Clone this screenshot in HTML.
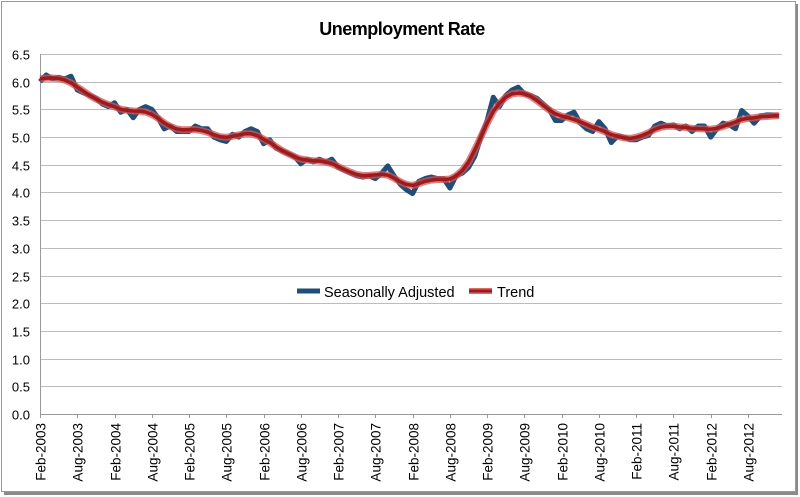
<!DOCTYPE html>
<html><head><meta charset="utf-8"><style>
html,body{margin:0;padding:0;background:#fff;}
body{width:800px;height:497px;overflow:hidden;position:relative;font-family:"Liberation Sans",sans-serif;}
</style></head><body>
<svg id="s" width="800" height="497" xmlns="http://www.w3.org/2000/svg" style="position:absolute;left:0;top:0">
<rect x="4" y="4" width="794" height="491" fill="#8a8a8a"/>
<rect x="1.5" y="1.5" width="794" height="490" fill="#fff" stroke="#9a9a9a" stroke-width="1"/>
<text x="402" y="35" text-anchor="middle" font-family="Liberation Sans, sans-serif" font-weight="bold" font-size="18" fill="#000" letter-spacing="-0.5">Unemployment Rate</text>
<g id="grid"></g>
<g id="lines"></g>
<line x1="297" y1="291" x2="320" y2="291" stroke="#1f4e79" stroke-width="5"/>
<text x="324" y="297" font-size="14.5" fill="#000" font-family="Liberation Sans, sans-serif">Seasonally Adjusted</text>
<line x1="469" y1="291" x2="492" y2="291" stroke="#d9534f" stroke-width="6" opacity="0.85"/>
<line x1="469" y1="291" x2="492" y2="291" stroke="#9b1b1f" stroke-width="3"/>
<text x="497" y="297" font-size="14.5" fill="#000" font-family="Liberation Sans, sans-serif">Trend</text>
</svg>
<script>
var X0=40,X1=782,Y0=414,YT=54,pm=6.21;
function yv(v){return Y0-(Y0-YT)*v/6.5;}
var g='';
for(var i=0;i<=13;i++){var v=i*0.5,y=Math.round(yv(v))+0.5;
 if(i>0)g+='<line x1="'+X0+'" y1="'+y+'" x2="'+X1+'" y2="'+y+'" stroke="#bcbcbc" stroke-width="1"/>';
 g+='<text x="30" y="'+(y+5)+'" text-anchor="end" font-size="13" fill="#000" font-family="Liberation Sans, sans-serif">'+v.toFixed(1)+'</text>';}
g+='<line x1="'+(X0+0.5)+'" y1="'+YT+'" x2="'+(X0+0.5)+'" y2="'+Y0+'" stroke="#999"/>';
g+='<line x1="'+X0+'" y1="'+(Y0+0.5)+'" x2="'+X1+'" y2="'+(Y0+0.5)+'" stroke="#999"/>';
var mon=['Feb','Aug'];
for(var k=0;k<20;k++){var x=Math.round(X0+k*6*pm)+0.5;var yr=2003+Math.floor(k/2);
 g+='<line x1="'+x+'" y1="'+Y0+'" x2="'+x+'" y2="'+(Y0+4)+'" stroke="#999"/>';
 g+='<text transform="translate('+(x+5)+',423) rotate(-90)" text-anchor="end" font-size="13.5" fill="#000" font-family="Liberation Sans, sans-serif">'+mon[k%2]+'-'+yr+'</text>';}
document.getElementById('grid').innerHTML=g;
var d=[6.0,6.12,6.05,6.08,6.05,6.1,5.85,5.8,5.75,5.7,5.6,
5.55,5.62,5.45,5.5,5.35,5.5,5.55,5.5,5.35,5.15,5.2,5.1,
5.1,5.1,5.2,5.15,5.15,5.0,4.95,4.92,5.05,5.0,5.1,5.15,
5.1,4.88,4.95,4.8,4.75,4.7,4.65,4.52,4.6,4.55,4.6,4.55,
4.6,4.45,4.4,4.35,4.3,4.28,4.3,4.25,4.35,4.48,4.3,4.15,
4.05,3.98,4.2,4.25,4.28,4.25,4.25,4.08,4.3,4.35,4.45,4.65,
5.0,5.3,5.72,5.55,5.75,5.85,5.9,5.78,5.75,5.7,5.6,5.5,
5.3,5.3,5.4,5.45,5.25,5.15,5.1,5.28,5.15,4.9,5.02,5.0,
4.95,4.95,5.0,5.03,5.2,5.25,5.2,5.22,5.15,5.2,5.1,5.2,
5.2,5.0,5.15,5.25,5.22,5.15,5.48,5.38,5.25,5.38,5.4,5.4,5.38];
function path(a){var p='';for(var i=0;i<a.length;i++){p+=(i?'L':'M')+(X0+i*pm).toFixed(1)+','+yv(a[i]).toFixed(1);}return p;}
var w=[1,2,3,4,3,2,1],t=[];
for(var i=0;i<d.length;i++){var s=0,ws=0;for(var j=-3;j<=3;j++){var k=i+j;if(k<0||k>=d.length)continue;s+=d[k]*w[j+3];ws+=w[j+3];}t.push(s/ws);}
var h='<path d="'+path(d)+'" fill="none" stroke="#1f4e79" stroke-width="5" stroke-linejoin="round"/>';
h+='<path d="'+path(t)+'" fill="none" stroke="#d9534f" stroke-width="7" opacity="0.75" stroke-linejoin="round"/>';
h+='<path d="'+path(t)+'" fill="none" stroke="#9b1b1f" stroke-width="3.5" stroke-linejoin="round"/>';
document.getElementById('lines').innerHTML=h;
</script>
</body></html>
